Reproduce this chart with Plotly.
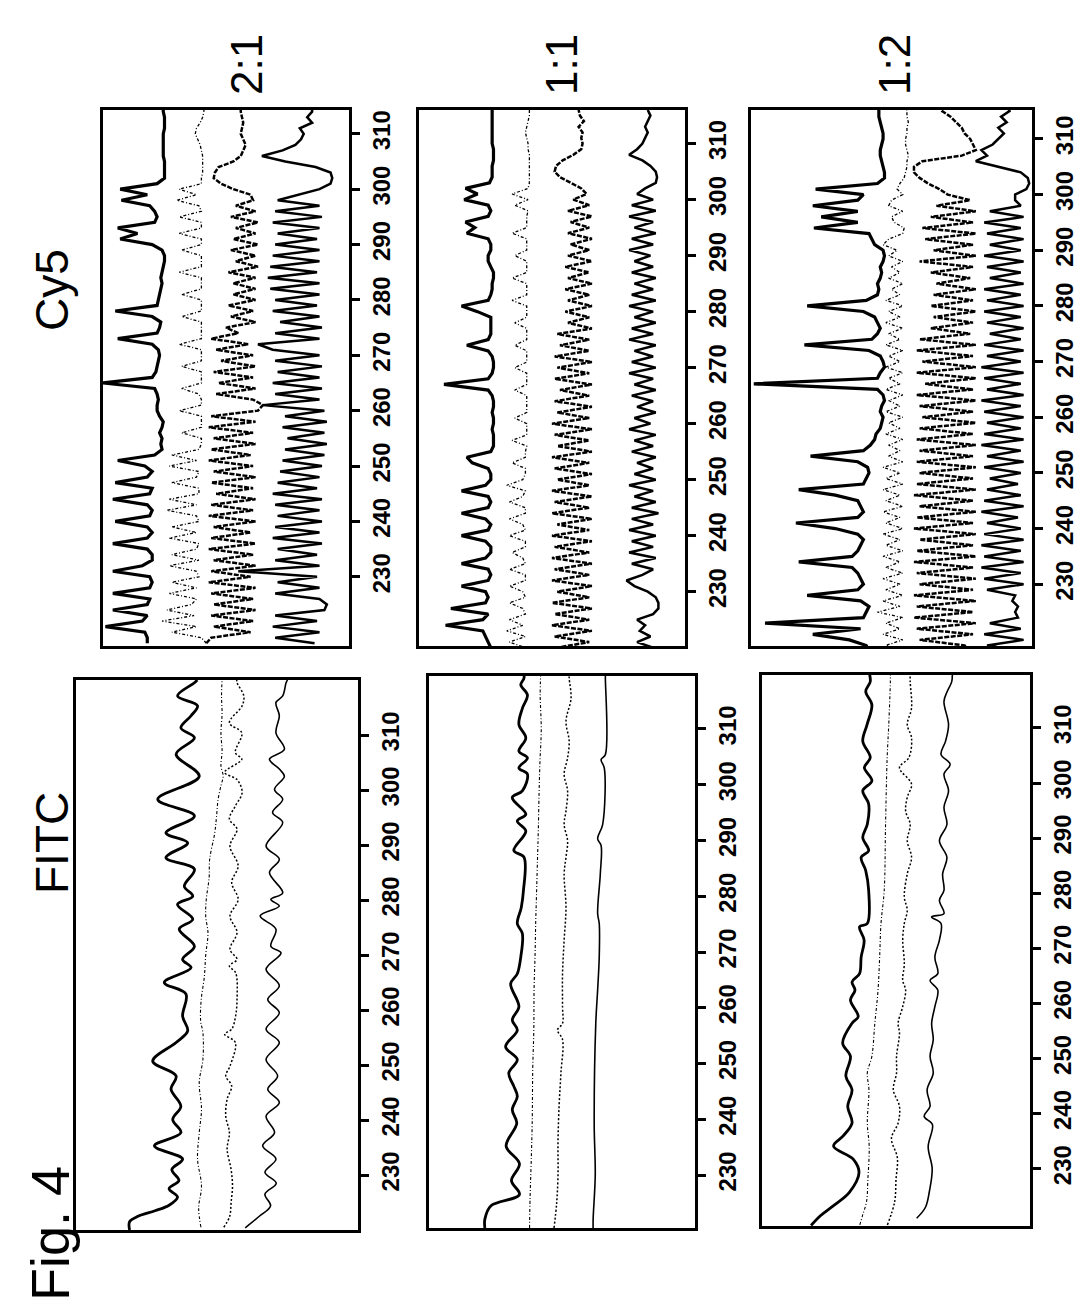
import plotly.graph_objects as go

W, H = 1085, 1312

# ---------------- data ----------------
# Cy5 traces: sampled at scan positions 218..316 (one sample per unit)
CY5_POS = list(range(218, 317))

CY5_21_T1 = [82, 82, 83, 99, 84, 82, 96, 82, 81, 96,
             81, 80, 81, 96, 84, 80, 80, 82, 96, 82,
             80, 82, 95, 81, 80, 82, 96, 81, 80, 95,
             82, 80, 83, 94, 79, 76, 76.5, 76, 77, 76,
             75.5, 77, 78, 78, 77.5, 78, 79, 100, 80, 78.5,
             78, 77.5, 77, 77.5, 80, 94, 78, 77, 76.5, 80,
             95, 78, 77.5, 77, 76.5, 76, 76.5, 76, 75.5, 75,
             75, 76, 80, 93, 86, 94, 79, 78, 79, 81,
             92.5, 82, 93, 78, 75, 75, 75, 75, 75.5, 75.5,
             75.5, 75.5, 75.5, 75, 75, 75, 75.5, 75.5, 75.5]
CY5_21_T2 = [58, 60, 72, 62, 76, 63, 74, 64, 62, 73,
             62, 72, 61, 62, 73, 61, 72, 62, 61, 73,
             62, 72, 61, 62, 74, 62, 73, 61, 61, 72,
             62, 61, 73, 62, 72, 61, 60, 60, 68, 60,
             60, 60, 69, 60, 60, 61, 68, 60, 60, 60,
             68, 60, 60, 60, 69, 60, 60, 60, 60, 68,
             60, 60, 60, 68, 60, 60, 60, 69, 60, 60,
             60, 68, 60, 60, 69, 60, 60, 69, 60, 61,
             70, 62, 69, 60, 60, 59.5, 59.5, 59.5, 59.5, 60,
             60.5, 61.5, 62.5, 62, 60.5, 59.5, 59, 59, 59]
CY5_21_T3 = [58, 56, 40, 55, 39, 56, 38, 55, 39, 56,
             38, 57, 40, 56, 38, 55, 39, 57, 38, 56,
             40, 55, 38, 57, 39, 56, 38, 54, 39, 56,
             38, 55, 39, 57, 40, 56, 38, 55, 39, 57,
             38, 56, 37, 35, 39, 54, 38, 53, 39, 55,
             38, 52, 39, 54, 41, 56, 45, 50, 38, 48,
             39, 49, 38, 47, 38, 47, 38, 49, 37, 46,
             38, 48, 37, 47, 38, 46, 37, 48, 38, 46,
             39, 40, 47, 52, 55, 54.5, 53, 47, 44, 43,
             42, 43, 44, 43.5, 43, 43.5, 44, 44, 44]
CY5_21_T4 = [14, 30, 12, 31, 13, 30, 10, 9, 12, 30,
             12, 29, 13, 45, 12, 30, 13, 29, 11, 31,
             12, 30, 11, 29, 12, 30, 11, 31, 13, 29,
             12, 28, 11, 27, 10, 26, 9, 25, 10, 27,
             9, 26, 10, 35, 12, 30, 11, 31, 12, 29,
             11, 30, 12, 31, 37, 12, 30, 11, 28, 12,
             31, 13, 30, 12, 32, 12, 33, 13, 32, 12,
             31, 12, 30, 13, 29, 12, 31, 11, 30, 12,
             29, 20, 12, 7.5, 6.8, 7.5, 13.6, 25.9, 35.4, 27,
             21.8, 19.5, 18.4, 20, 15, 17, 15, 15, 15]

CY5_11_T1 = [73, 73, 73, 74, 75, 76, 90, 76, 74, 88,
             75, 74, 75, 84, 74, 73, 74, 84, 75, 73,
             73, 75, 84, 74, 73, 75, 84, 74, 73, 74,
             84, 75, 73, 73, 74, 80, 82, 73, 72, 72,
             72, 72.5, 72, 72, 72.5, 72, 72, 72.5, 74, 90.6,
             74, 72.5, 72, 72, 72.5, 74, 82, 74, 73, 73,
             73, 73, 78, 84, 74, 73, 72.5, 72.5, 72, 72,
             73, 74, 74, 73, 73, 74, 82, 79, 82.5, 74,
             73, 74, 83, 78, 82.5, 73.5, 72.5, 72.5, 72.5, 72,
             72, 72, 72.5, 72.5, 72.5, 72.5, 72.5, 72.5, 72.5]
CY5_11_T2 = [60, 61, 60, 66, 60, 67, 61, 66, 60, 61,
             66, 60, 61, 66, 60, 60, 66, 60, 61, 65,
             60, 60, 66, 60, 61, 66, 60, 60, 66, 61,
             60, 67, 61, 60, 60, 65, 60, 60, 59.5, 65,
             59.5, 59.5, 59.5, 64, 59.5, 59.5, 59.5, 59.5, 64, 59.5,
             59.5, 59.5, 64, 59.5, 59.5, 59.5, 64, 59.5, 59.5, 59.5,
             64, 59.5, 59.5, 59.5, 65, 59.5, 59.5, 59.5, 65, 59.5,
             59.5, 59.5, 64, 59.5, 59.5, 59.5, 65, 59.5, 59.5, 59.5,
             59, 64, 59, 65, 59, 58.5, 58.5, 58.5, 58.5, 58.5,
             58.5, 59, 59, 59.5, 60, 59.5, 59, 58.5, 58.5]
CY5_11_T3 = [47, 44, 48, 36, 49, 35, 50, 36, 49, 35,
             50, 36, 48, 35, 50, 36, 49, 35, 50, 36,
             49, 35, 50, 36, 48, 35, 50, 36, 49, 35,
             50, 36, 48, 35, 49, 36, 50, 35, 48, 36,
             49, 35, 50, 36, 48, 35, 49, 36, 47, 35,
             49, 36, 48, 35, 49, 36, 47, 36, 48, 35,
             44, 36, 45, 35, 44, 36, 45, 35, 44, 36,
             45, 35, 44, 36, 43, 35, 44, 36, 43, 35,
             44, 36, 42, 37, 39, 43, 47, 49, 48.5, 46,
             42, 39, 38.5, 39, 38.5, 40, 38, 39.5, 40]
CY5_11_T4 = [14, 17, 12, 18, 13, 17, 15, 18, 12, 10,
             10, 11, 14, 19, 22, 16, 12, 20, 11, 21,
             12, 20, 11, 21, 12, 20, 10, 20, 11, 19,
             12, 21, 11, 19, 12, 18, 11, 20, 12, 19,
             11, 21, 13, 19, 11, 18, 12, 20, 11, 19,
             12, 21, 11, 20, 12, 19, 11, 21, 12, 20,
             11, 19, 12, 21, 11, 20, 12, 19, 11, 20,
             12, 19, 13, 21, 12, 20, 11, 19, 12, 21,
             11, 20, 12, 18, 15, 11, 10.5, 11, 13, 16,
             21, 18, 16, 15, 14, 15, 14, 13, 14]

CY5_12_T1 = [58, 59, 65, 78, 61, 95, 60, 59, 58, 61,
             80, 62, 60, 61, 62, 64, 83, 64, 62, 61,
             60, 62, 70, 84, 62, 60, 61, 62, 70, 83,
             60, 59, 58, 58.5, 62, 78.8, 60, 57.5, 56, 55.5,
             54, 53.5, 53, 54, 53.5, 52.5, 53, 55, 99, 55,
             54, 52.5, 53, 54, 58, 81, 57, 55, 54, 55,
             56, 60, 80, 59, 55, 54.5, 55, 54, 53.5, 54,
             53, 52.5, 53, 56, 57, 58, 77.6, 62, 75, 62,
             78, 62, 60, 77, 55, 52.5, 52.5, 53, 53.5, 54,
             54, 53.5, 53, 53, 53.5, 54, 54.5, 54.5, 54.5]
CY5_12_T2 = [47, 52, 46, 53, 47, 52, 46, 55, 47, 53,
             46, 52, 47, 53, 46, 52, 47, 53, 46, 52,
             47, 53, 46, 52, 47, 53, 46, 52, 47, 53,
             46, 52, 47, 53, 46, 51, 47, 51, 46, 52,
             47, 51, 46, 52, 47, 51, 46, 52, 47, 51,
             46, 52, 47, 51, 46, 52, 47, 51, 46, 52,
             47, 51, 46, 52, 47, 50, 46, 51, 47, 50,
             46, 51, 48, 53, 51, 46, 45.5, 49, 50, 46,
             51, 50, 46, 48, 47, 45.5, 45, 44.5, 44.5, 44,
             44.5, 45, 45, 44.5, 44.5, 44, 44.5, 44.5, 45]
CY5_12_T3 = [22, 24, 40, 21, 41, 20, 42, 21, 41, 20,
             42, 21, 40, 20, 41, 21, 42, 20, 41, 21,
             40, 20, 42, 21, 41, 20, 40, 21, 42, 20,
             41, 21, 40, 20, 41, 21, 40, 20, 41, 21,
             40, 20, 39, 21, 40, 20, 41, 21, 38, 20,
             41, 20, 39, 21, 41, 20, 40, 22, 36, 21,
             35, 20, 36, 21, 35, 20, 34, 22, 36, 21,
             40, 20, 35, 21, 38, 20, 39, 21, 36, 20,
             34, 22, 30, 33, 37, 40, 42, 42, 39, 25,
             20, 21, 22, 24, 25, 27, 29, 32, 33]
CY5_12_T4 = [4, 16, 3, 17, 4, 15, 5, 6, 5, 7,
             6, 16, 3, 17, 4, 18, 3, 17, 4, 18,
             3, 17, 4, 16, 5, 18, 3, 17, 4, 16,
             5, 15, 4, 17, 3, 16, 4, 18, 3, 17,
             4, 16, 3, 17, 4, 18, 3, 16, 4, 17,
             3, 18, 4, 16, 3, 17, 4, 15, 3, 16,
             4, 17, 3, 16, 4, 17, 3, 15, 4, 16,
             3, 17, 4, 15, 3, 16, 4, 17, 3, 15,
             4, 6, 6, 2, 1, 1.5, 4, 12, 20, 16,
             18, 14, 12, 10, 12, 9, 11, 8, 9]

# FITC traces: (position, signal) pairs read at the turning points
FITC_21_T1_POS = [220, 221.5, 222.5, 223.5, 224.5, 226, 227.5, 229, 231, 232.9, 235.3, 237.7, 240.1, 242.5, 245.6,
                  248.0, 250.7, 254.1, 256.2, 258.9, 262.9, 265.0, 267.7, 269.2, 271.6, 274.7, 276.5, 279.2, 280.7,
                  282.5, 285.6, 287.7, 290.4, 292.2, 295.3, 298.3, 302.5, 306.5, 309.5, 311.3, 313.5, 315.3, 317.1,
                  319.5, 320]
FITC_21_T1_VAL = [81, 81, 78, 72, 67, 64, 67, 63.5, 66, 62.2, 72.2, 62.8, 65.7, 62.8, 66.3,
                  64.5, 72.8, 64.5, 60.4, 62.2, 61.0, 68.7, 59.2, 62.2, 58.0, 63.4, 58.6, 64.0, 58.6,
                  61.6, 58.0, 68.1, 60.4, 68.1, 58.0, 71.0, 56.3, 64.5, 58.0, 62.8, 59.2, 56.9, 64.0,
                  58.0, 57]
FITC_21_T2_POS = [220.5, 224, 228, 232.9, 237.7, 242, 246.8, 251, 255.9, 258, 261.9, 266, 270, 274, 277,
                  280.1, 284, 287.4, 292.2, 295, 298.3, 301, 302.5, 304.4, 307, 310.4, 314, 317, 320]
FITC_21_T2_VAL = [55.7, 56.5, 55.5, 56.9, 56.3, 55.5, 56.3, 55.0, 55.0, 55.8, 55.6, 54.5, 54.0, 53.2, 54.0,
                  53.8, 52.8, 52.6, 50.8, 50.2, 49.6, 48.5, 47.8, 48.6, 48.2, 48.6, 48.2, 48.4, 48.2]
FITC_21_T3_POS = [220.5, 222.5, 225, 228, 231, 234.7, 237.7, 240.7, 243.8, 246.2, 248.0, 249.8, 254.1, 255.6,
                  256.5, 258.9, 261.9, 266.8, 268.0, 269.2, 271.0, 274.1, 277.1, 280.1, 283.2, 286.2, 289.8,
                  292.9, 294.7, 297.1, 299.5, 301.9, 303.2, 305.6, 306.8, 310.4, 312.2, 315.3, 317.1, 319.5, 320]
FITC_21_T3_VAL = [47.6, 45.5, 45, 44.5, 45, 46.4, 45.6, 46.9, 46.4, 44.8, 46.9, 45.4, 43.5, 47.3,
                  44.8, 43.4, 42.9, 43.4, 45.6, 42.9, 45.4, 42.9, 45.4, 42.5, 44.8, 42.5, 45.4,
                  42.9, 45.6, 43.5, 41.1, 42.9, 47.3, 41.2, 43.5, 41.2, 45.6, 41.1, 40.5, 42.9, 43]
FITC_21_T4_POS = [220.4, 222.5, 224.4, 226.5, 228.5, 230.5, 232.9, 235.3, 237.7, 240.7, 243.2, 245.6, 248.0,
                  251.0, 254.1, 256.5, 259.5, 261.9, 264.4, 267.4, 270.4, 271.6, 274.7, 277.1, 278.9, 280.1,
                  281.3, 285.0, 287.4, 289.8, 294.1, 295.9, 298.3, 300.1, 302.5, 303.8, 305.6, 307.4, 310.4,
                  313.5, 315.9, 317.1, 319.5, 320]
FITC_21_T4_VAL = [40, 35, 31, 33, 29, 33, 29.1, 33.8, 29.6, 32.6, 27.9, 32.0, 28.5,
                  32.6, 27.9, 32.6, 27.9, 32.0, 27.9, 32.6, 27.3, 30.9, 29.1, 34.7, 27.9, 30.9,
                  26.7, 31.4, 27.9, 32.6, 26.7, 30.3, 26.7, 29.6, 26.1, 27.9, 31.4, 26.1, 29.1,
                  27.9, 29.1, 26.7, 25.5, 25]

FITC_11_T1_POS = [220.5, 222.1, 224.5, 226.5, 229, 232, 235.2, 239.3, 241.7, 244.1, 245.9, 248.3, 250.7, 253.0,
                  256.0, 257.8, 260.2, 264.3, 266.1, 269.1, 273.3, 275.1, 278.0, 281.0, 287.0, 288.2, 291.7,
                  293.5, 294.7, 297.7, 298.9, 301.9, 303.0, 304.8, 306.0, 308.4, 310.8, 313.7, 316.1, 317.9,
                  319.1, 320]
FITC_11_T1_VAL = [79, 79, 76.7, 66, 69, 66, 71, 67, 68.7, 66.8, 68.1, 70.0, 66.8, 71.2,
                  66.8, 68.7, 66.2, 69.3, 66.8, 65.5, 64.9, 66.8, 65.3, 64.5, 64.3, 68.1, 63.6,
                  66.8, 63.6, 68.7, 64.9, 63.0, 66.2, 63.0, 66.2, 63.6, 66.2, 64.9, 63.0, 65.5,
                  64.3, 64.3]
FITC_11_T2_POS = [220.5, 226, 232, 239.3, 249, 256, 263.2, 270, 275.1, 280, 286.9, 292, 298.9, 304, 310, 316, 320]
FITC_11_T2_VAL = [62.2, 62.0, 61.6, 61.2, 61.0, 60.6, 60.5, 60.1, 59.9, 59.6, 59.2, 58.9, 58.6, 58.3, 57.8, 58.2, 58.0]
FITC_11_T3_POS = [220.5, 225, 230, 236, 242.3, 248.3, 254.3, 256.0, 257.2, 260.2, 266.1, 272.1, 278.0, 284.0,
                  287.0, 289.9, 292.9, 295.3, 298.9, 301.9, 304.8, 307.8, 311.4, 315.5, 319.1, 320]
FITC_11_T3_VAL = [53, 52, 51.5, 51.5, 51.1, 50.4, 49.8, 51.7, 49.8, 49.8, 49.8, 49.2, 48.5, 49.2,
                  48.5, 47.9, 49.2, 48.5, 47.9, 49.2, 47.9, 47.3, 48.5, 46.6, 47.3, 47.3]
FITC_11_T4_POS = [220.5, 222, 230, 239.3, 257.2, 263.2, 269.1, 275.1, 276.9, 284.0, 289.1, 290.3, 292.9, 303.0,
                  304.5, 305.4, 319.1, 320]
FITC_11_T4_VAL = [38.3, 38.3, 37.5, 37.9, 37.3, 36.6, 36.0, 36.0, 36.6, 35.6, 35.3, 36.6, 34.7, 34.1,
                  35.3, 33.7, 33.7, 33.7]

FITC_12_T1_POS = [219.7, 221.5, 223.3, 225.7, 229.3, 231.7, 234.1, 235.9, 238.3, 241.3, 244.3, 246.8, 250.4,
                  252.8, 256.4, 257.6, 260.6, 262.4, 263.9, 265.4, 268.4, 271.5, 273.9, 274.5, 280.5, 284.1,
                  286.5, 287.7, 290.1, 292.5, 296.2, 298.6, 300.4, 302.8, 304.6, 307.6, 310.6, 314.2, 316.6,
                  318.4, 320]
FITC_12_T1_VAL = [81.7, 78.1, 73.3, 67.4, 63.8, 65.9, 73.3, 69.8, 66.4, 68, 66.4, 68.7, 67.0,
                  69.9, 66.4, 64.1, 67.0, 65.3, 66.4, 63.6, 63.0, 61.9, 63.6, 60.7, 60.2, 61.3,
                  63.0, 60.2, 62.4, 60.7, 60.2, 62.4, 59.0, 61.8, 59.6, 62.4, 60.8, 59.0, 61.3,
                  59.6, 60]
FITC_12_T2_POS = [219.8, 221.5, 224, 228, 234, 238.3, 244.3, 247.4, 250.4, 256.4, 262.4, 268.4, 274.5, 280.5,
                  292.5, 304.6, 310.6, 318.4, 320]
FITC_12_T2_VAL = [63.5, 62.5, 61, 60.5, 60, 60.7, 60.1, 60.7, 59.0, 57.9, 56.7, 56.1, 55.6, 54.4,
                  53.9, 53.3, 52.7, 52.1, 52.1]
FITC_12_T3_POS = [219.8, 224, 228, 232, 235.5, 238.3, 241.3, 244.3, 247.4, 250.4, 254.6, 256.4, 259.4, 262.4,
                  264.2, 267.2, 271.5, 274.5, 276.9, 279.3, 283.5, 286.5, 289.5, 292.5, 294.9, 297.4, 299.8,
                  302.8, 304.6, 308.2, 310.6, 313.6, 318.4, 320]
FITC_12_T3_VAL = [53.2, 50.5, 50, 49.5, 51.7, 49.2, 48.7, 51.0, 49.8, 49.8, 48.7, 49.2, 47.5, 46.4,
                  47.5, 46.9, 47.5, 46.9, 45.8, 46.9, 45.8, 44.2, 45.8, 44.7, 46.4, 45.8, 44.2,
                  48.7, 45.2, 44.2, 45.8, 44.2, 44.7, 44.7]
FITC_12_T4_POS = [221, 223, 226, 230, 234, 238, 239.5, 241.3, 244.3, 247.4, 250.4, 253.4, 256.4, 259.4, 262.4,
                  264.2, 265.4, 268.4, 271.5, 274.5, 275.7, 276.3, 278.7, 280.5, 283.5, 286.5, 289.5, 292.5,
                  295.6, 298.6, 301.6, 303.4, 305.2, 307.6, 310.6, 314.8, 316.6, 318.4, 320]
FITC_12_T4_VAL = [42.3, 39, 37.5, 36.5, 38, 36.4, 39.5, 37.3, 38.4, 36.1, 37.3, 36.1, 36.7, 35.5, 34.4,
                  37.3, 34.4, 35.5, 33.8, 33.2, 36.7, 32.1, 33.8, 32.1, 32.6, 31.0, 33.8, 31.0,
                  32.1, 30.4, 32.1, 29.8, 33.2, 31.5, 30.4, 32.1, 30.9, 29.2, 29]

TICK_VALS = [230, 240, 250, 260, 270, 280, 290, 300, 310]
TICK_TEXT = ["230", "240", "250", "260", "270", "280", "290", "300", "310"]
RATIO_LABELS = ["2:1", "1:1", "1:2"]
CHANNEL_LABELS = ["Cy5", "FITC"]
FIG_LABEL = "Fig. 4"

# ---------------- styles / layout ----------------
STY = [
    dict(color="black", width=3.2),
    dict(color="black", width=1.3, dash="3px,2px,1px,2px"),
    dict(color="black", width=2.5, dash="5px,1.5px"),
    dict(color="black", width=2.5),
]
FSTY = [
    dict(color="black", width=2.8),
    dict(color="black", width=1.1, dash="3px,2px,1px,2px"),
    dict(color="black", width=1.5, dash="2px,2px"),
    dict(color="black", width=1.6),
]

panels = [
    dict(box=(95, 341, 102, 638), rng=(217.5, 314.3),
         traces=[(CY5_POS, CY5_21_T1), (CY5_POS, CY5_21_T2), (CY5_POS, CY5_21_T3), (CY5_POS, CY5_21_T4)], kind="cy5"),
    dict(box=(411, 677, 102, 638), rng=(220.3, 316.0),
         traces=[(CY5_POS, CY5_11_T1), (CY5_POS, CY5_11_T2), (CY5_POS, CY5_11_T3), (CY5_POS, CY5_11_T4)], kind="cy5"),
    dict(box=(743, 1024, 102, 638), rng=(218.9, 315.2),
         traces=[(CY5_POS, CY5_12_T1), (CY5_POS, CY5_12_T2), (CY5_POS, CY5_12_T3), (CY5_POS, CY5_12_T4)], kind="cy5"),
    dict(box=(68, 350, 672, 1222), rng=(220.0, 320.0),
         traces=[(FITC_21_T1_POS, FITC_21_T1_VAL), (FITC_21_T2_POS, FITC_21_T2_VAL),
                 (FITC_21_T3_POS, FITC_21_T3_VAL), (FITC_21_T4_POS, FITC_21_T4_VAL)], kind="fitc"),
    dict(box=(421, 687, 668, 1220), rng=(220.5, 319.5),
         traces=[(FITC_11_T1_POS, FITC_11_T1_VAL), (FITC_11_T2_POS, FITC_11_T2_VAL),
                 (FITC_11_T3_POS, FITC_11_T3_VAL), (FITC_11_T4_POS, FITC_11_T4_VAL)], kind="fitc"),
    dict(box=(754, 1022, 667, 1218), rng=(219.6, 319.6),
         traces=[(FITC_12_T1_POS, FITC_12_T1_VAL), (FITC_12_T2_POS, FITC_12_T2_VAL),
                 (FITC_12_T3_POS, FITC_12_T3_VAL), (FITC_12_T4_POS, FITC_12_T4_VAL)], kind="fitc"),
]

fig = go.Figure()
layout = dict(
    width=W, height=H, margin=dict(l=0, r=0, t=0, b=0),
    paper_bgcolor="white", plot_bgcolor="white", showlegend=False,
    font=dict(family="Liberation Sans, Arial, sans-serif", color="black"),
)

for i, p in enumerate(panels):
    n = i + 1
    sfx = "" if n == 1 else str(n)
    x0, x1, y0, y1 = p["box"]
    for k, (pos, val) in enumerate(p["traces"]):
        if p["kind"] == "cy5":
            line = dict(STY[k], shape="linear")
        else:
            line = dict(FSTY[k], shape="spline", smoothing=1.0)
        fig.add_trace(go.Scatter(x=val, y=pos, mode="lines", line=line,
                                 xaxis="x" + sfx, yaxis="y" + sfx, hoverinfo="skip"))
    layout["xaxis" + sfx] = dict(
        domain=[x0 / W, x1 / W], range=[100, 0], anchor="y" + sfx,
        showticklabels=False, ticks="", showgrid=False, zeroline=False,
        showline=True, linecolor="black", linewidth=2.5, mirror=True, fixedrange=True)
    layout["yaxis" + sfx] = dict(
        domain=[1 - y1 / H, 1 - y0 / H], range=list(p["rng"]), anchor="x" + sfx, side="right",
        tickmode="array", tickvals=TICK_VALS, ticktext=TICK_TEXT,
        ticks="outside", ticklen=8, tickwidth=3, tickcolor="black", tickangle=-90,
        ticklabelstandoff=1,
        tickfont=dict(family="Liberation Sans Narrow, Arial Narrow, Liberation Sans, Arial",
                      size=24, color="black", weight="bold"),
        showgrid=False, zeroline=False,
        showline=True, linecolor="black", linewidth=2.5, mirror=True, fixedrange=True)

ann = []
for lbl, cx in zip(RATIO_LABELS, [238, 553, 886]):
    ann.append(dict(text=lbl, x=cx / W, y=1 - 57 / H, xref="paper", yref="paper",
                    xanchor="center", yanchor="middle",
                    showarrow=False, textangle=-90, font=dict(size=44, color="black")))
for lbl, cy in zip(CHANNEL_LABELS, [282, 835]):
    ann.append(dict(text=lbl, x=44 / W, y=1 - cy / H, xref="paper", yref="paper",
                    xanchor="center", yanchor="middle",
                    showarrow=False, textangle=-90, font=dict(size=46, color="black")))
ann.append(dict(text=FIG_LABEL, x=42 / W, y=1 - 1226 / H, xref="paper", yref="paper",
                xanchor="center", yanchor="middle",
                showarrow=False, textangle=-90, font=dict(size=54, color="black")))
layout["annotations"] = ann

fig.update_layout(**layout)
fig.write_html("out.html")
